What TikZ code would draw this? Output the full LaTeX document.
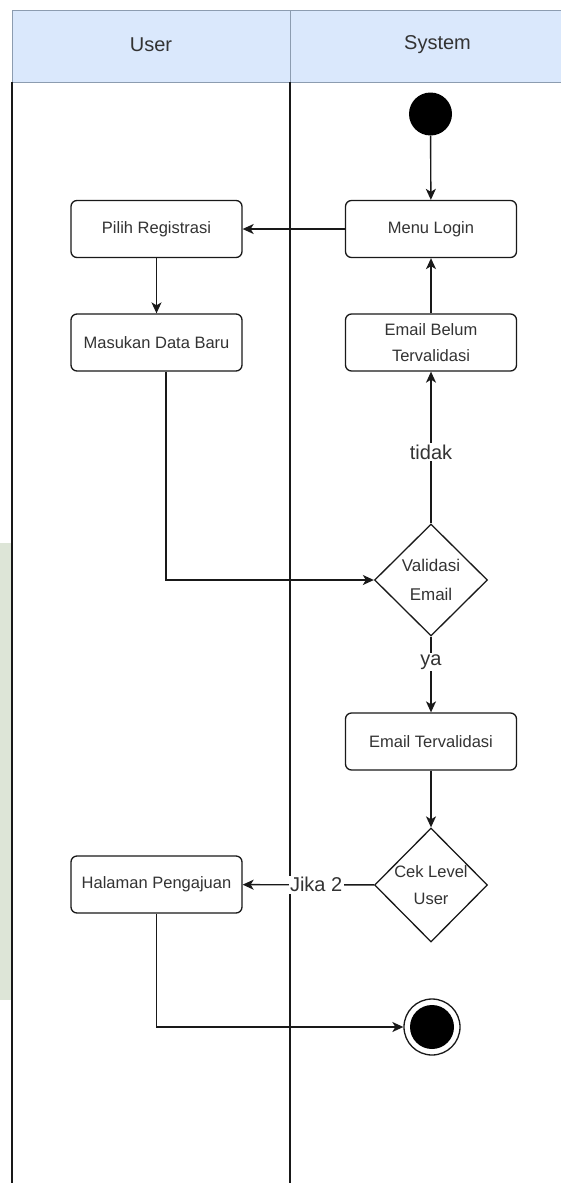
\documentclass[tikz,border=0pt]{standalone}
\usepackage{fontspec}
\setmainfont{Liberation Sans}
\usetikzlibrary{arrows.meta,shapes.geometric,calc}
\definecolor{headfill}{HTML}{DAE8FC}
\definecolor{headline}{HTML}{8C9CB0}
\definecolor{txt}{HTML}{333333}
\definecolor{stripfill}{HTML}{DDE5D7}
\begin{document}
\begin{tikzpicture}[x=1pt,y=-1pt,
  act/.style={draw=black!90, line width=1.3pt, rounded corners=6pt, fill=white,
    minimum width=171pt, minimum height=57pt, inner sep=0pt, align=center,
    font=\fontsize{16.5}{26}\selectfont, text=txt},
  dec/.style={draw=black!90, line width=1.3pt, diamond, fill=white,
    minimum width=113pt, minimum height=112pt, inner sep=0pt, align=center,
    font=\fontsize{17}{29}\selectfont, text=txt},
  flow/.style={line width=1.4pt, draw=black!90,
    -{Stealth[length=11pt,width=10pt,inset=3pt]}},
  lbl/.style={fill=white, inner sep=1.5pt, font=\fontsize{20}{24}\selectfont, text=txt},
  lanehead/.style={font=\fontsize{20}{24}\selectfont, text=txt}]
\useasboundingbox (0,0) rectangle (561,1183);
\fill[white] (0,0) rectangle (561,1183);
\fill[stripfill] (0,543) rectangle (11,1000);

% swimlane headers
\fill[headfill] (12,10) rectangle (600,82);
\draw[headline, line width=1pt] (12,10) rectangle (600,82);
\draw[headline, line width=1pt] (290,10) -- (290,82);
\node[lanehead] (huser) at (151,45) {User};
\node[lanehead] (hsys) at (437.5,45) {System};

% lane borders
\draw[line width=1.3pt, black!90] (12,82) -- (12,1190);
\draw[line width=1.3pt, black!90] (290,82) -- (290,1190);

% activities
\node[circle, fill=black, minimum size=43pt, inner sep=0pt] (start) at (430.5,114) {};
\node[act] (login) at (431,229) {Menu Login};
\node[act] (pilih) at (156.5,229) {Pilih Registrasi};
\node[act] (masuk) at (156.5,342.5) {Masukan Data Baru};
\node[act] (belum) at (431,342.5) {Email Belum\\Tervalidasi};
\node[dec] (valid) at (431,580) {\makebox[0pt]{Validasi}\\\makebox[0pt]{Email}};
\node[act] (valok) at (431,741.5) {Email Tervalidasi};
\node[dec, minimum height=114pt, font=\fontsize{16.5}{27}\selectfont] (level) at (431,885)
  {\makebox[0pt]{Cek Level}\\\makebox[0pt]{User}};
\node[act] (halaman) at (156.5,884.5) {Halaman Pengajuan};
\node[circle, draw=black!90, line width=1.3pt, fill=white, minimum size=56pt, inner sep=0pt] (end) at (432,1027) {};
\fill[black] (end.center) circle (22pt);

% control flow
\draw[flow] (start) -- (login);
\draw[flow] (login) -- (pilih);
\draw[flow] (pilih) -- (masuk);
\draw[flow] (belum) -- (login);
\draw[flow] ([xshift=9.5pt]masuk.south) |- (valid.west);
\draw[flow] (valid) -- node[lbl, pos=0.47] (ltidak) {tidak} (belum);
\draw[flow] (valid) -- node[lbl, pos=0.34] (lya) {ya} (valok);
\draw[flow] (valok) -- (level);
\draw[flow] (level) -- node[lbl, pos=0.44] (ljika) {Jika 2} (halaman);
\draw[flow] (halaman) |- (end);
\end{tikzpicture}
\end{document}
